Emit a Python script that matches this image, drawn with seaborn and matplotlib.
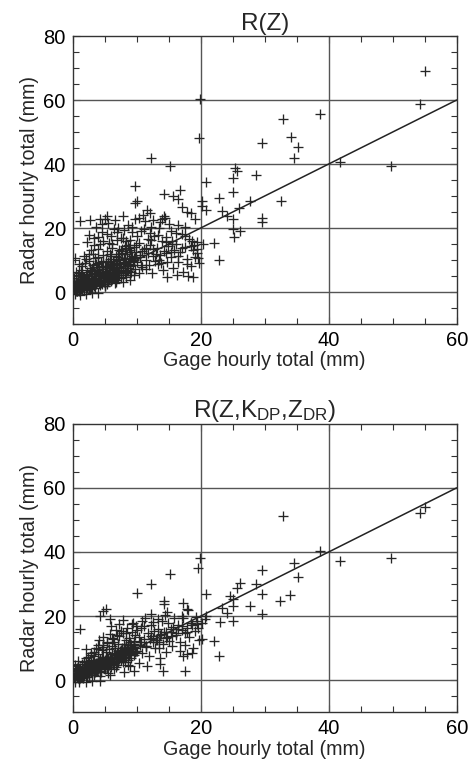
import numpy as np
import pandas as pd
import matplotlib
matplotlib.use("Agg")
import matplotlib.pyplot as plt
import seaborn as sns
from matplotlib.ticker import MultipleLocator

# ---------------- data ----------------
# Panel 1: R(Z)
gage_rz = [
    0.2, 0.3, 0.4, 0.5, 0.6, 0.7, 0.8, 0.9, 1.0, 1.1, 1.2, 1.3, 1.4, 1.5, 0.3, 0.5, 0.8, 1.0, 1.2, 1.4, 0.2, 0.6, 0.9, 1.3,
    0.4, 1.1, 2.0, 3.0, 4.0,
    1.6, 1.7, 1.8, 1.9, 2.0, 2.1, 2.2, 2.3, 2.4, 2.5, 2.6, 2.7, 2.8, 2.9, 3.0, 1.8, 2.2, 2.6, 2.0, 2.4, 2.8, 1.6, 3.0, 2.5,
    3.1, 3.2, 3.3, 3.4, 3.5, 3.6, 3.7, 3.8, 3.9, 4.0, 4.1, 4.2, 4.3, 4.4, 4.5, 4.6, 4.7, 4.8, 4.9, 5.0, 3.3, 3.7, 4.2, 4.6,
    3.5, 4.0, 4.4, 4.8, 3.2, 3.9, 4.5, 4.1,
    5.1, 5.2, 5.3, 5.4, 5.5, 5.6, 5.7, 5.8, 5.9, 6.0, 6.1, 6.2, 6.3, 6.4, 6.5, 6.6, 6.7, 6.8, 6.9, 7.0, 7.1, 7.2, 7.3, 7.4,
    5.5, 6.0, 6.6, 7.0, 5.3, 5.8, 6.2, 6.8, 7.3, 5.9, 6.4,
    7.6, 7.7, 7.8, 7.9, 8.0, 8.1, 8.2, 8.3, 8.4, 8.5, 8.6, 8.7, 8.8, 8.9, 9.0, 9.1, 9.2, 9.3, 9.4, 9.5, 9.6, 9.7, 9.8, 9.9,
    8.0, 9.0, 8.4, 9.6, 7.8,
    10.1, 10.3, 10.5, 10.7, 10.9, 11.1, 11.3, 11.5, 11.7, 11.9, 12.1, 12.3, 12.5, 12.7, 12.9, 10.4, 11.0, 11.8, 12.4, 10.8, 12.0,
    13.1, 13.3, 13.5, 13.7, 13.9, 14.1, 14.3, 14.5, 14.7, 14.9, 15.1, 15.3, 15.5, 15.7, 15.9, 13.6, 14.8, 15.4,
    16.1, 16.4, 16.7, 17.0, 17.3, 17.6, 17.9, 18.2, 18.5, 18.8, 19.1, 19.4, 19.7, 18.0, 19.0, 16.5, 17.5, 18.8, 16.3,
    # scattered / outliers
    55.1, 54.2, 49.8, 41.7, 38.6, 32.9, 34.1, 35.2, 34.5, 32.6, 29.5, 28.6, 29.5, 29.5, 27.7, 26.0, 26.1, 25.4, 25.6, 25.1,
    25.1, 25.0, 25.1, 25.2, 24.1, 23.3, 22.9, 22.9, 22.1, 20.8, 20.9, 20.2, 20.2, 19.9, 19.8, 19.1, 20.4, 19.4, 16.8, 16.5,
    15.7, 15.2, 14.2, 12.3, 9.7, 10.0, 9.7, 14.2, 13.9, 18.5, 17.8, 17.0, 12.1, 11.6, 1.1, 2.7, 4.3, 5.3, 5.0, 7.9, 10.3,
]
radar_rz = [
    0.8, 2.1, 1.2, 3.5, 0.4, 1.8, 5.2, 2.6, 0.9, 4.1, 1.5, 7.0, 2.9, 0.6, 10.5, 6.3, 3.2, 8.8, 2.2, 5.6, 4.5, 2.8, 1.1, 3.7,
    -0.5, -0.8, -0.6, -0.3, -0.4,
    1.9, 4.8, 2.5, 9.2, 0.7, 3.3, 6.1, 1.6, 4.4, 12.0, 2.8, 7.5, 3.9, 1.3, 5.7, 11.2, 15.5, 9.8, 5.0, 2.0, 6.6, 3.1, 2.4, 17.8,
    3.2, 8.4, 1.8, 5.1, 10.6, 4.0, 2.6, 6.9, 13.4, 3.5, 7.8, 5.4, 2.2, 9.5, 18.9, 6.2, 4.3, 11.7, 3.0, 8.0, 16.8, 20.4, 14.9, 21.1,
    6.0, 4.9, 3.7, 7.1, 11.9, 9.0, 5.6, 2.9,
    4.6, 9.7, 6.3, 12.8, 3.4, 7.4, 15.3, 5.2, 10.2, 8.6, 4.1, 13.8, 6.8, 19.8, 9.1, 5.6, 11.4, 7.9, 16.4, 4.8, 10.8, 6.5, 13.1, 8.7,
    21.5, 17.6, 22.6, 20.0, 2.6, 8.2, 6.0, 3.9, 9.9, 12.0, 7.3,
    5.9, 12.3, 8.1, 17.0, 10.3, 6.7, 14.4, 9.4, 4.6, 11.8, 21.0, 7.6, 13.6, 9.8, 16.1, 6.2, 11.1, 18.6, 8.4, 14.0, 10.6, 22.8, 7.2, 12.6,
    19.4, 3.6, 15.8, 5.4, 3.2,
    9.3, 15.2, 11.6, 19.1, 7.8, 13.3, 22.1, 10.0, 16.7, 8.5, 14.6, 20.4, 11.2, 17.5, 9.6, 6.0, 24.2, 12.1, 5.8, 12.9, 18.3,
    13.9, 8.8, 19.9, 11.5, 15.8, 6.9, 12.7, 17.2, 9.4, 14.3, 21.4, 10.9, 16.0, 7.5, 13.0, 22.0, 4.8, 19.0,
    15.0, 9.5, 12.4, 18.0, 6.4, 14.1, 10.3, 16.6, 8.0, 13.2, 11.0, 15.6, 9.0, 5.0, 14.6, 21.0, 20.2, 4.6, 5.4,
    69.1, 58.6, 39.4, 40.6, 55.5, 54.0, 48.5, 45.4, 42.0, 28.4, 46.7, 36.6, 23.2, 21.9, 28.4, 26.4, 19.1, 38.9, 37.8, 35.7,
    31.3, 22.7, 19.6, 17.3, 23.8, 25.3, 29.3, 9.9, 15.4, 34.4, 25.5, 26.9, 28.4, 60.2, 48.2, 22.7, 14.9, 13.3, 32.0, 29.0,
    30.0, 39.4, 30.5, 42.0, 33.1, 28.4, 27.9, 23.8, 22.7, 24.6, 25.0, 26.6, 24.8, 25.6, 22.2, 22.4, 22.9, 23.8, 22.7, 23.8, 23.2,
]
# more points of the dense R(Z) cloud
gage_rz_dense = [
    0.4, 0.7, 1.0, 1.3, 1.6, 1.9, 2.2, 2.5, 2.8, 3.1, 3.4, 3.7, 4.0, 4.3, 4.6, 4.9, 5.2, 5.5, 5.8, 6.1, 6.4, 6.7, 7.0, 7.3,
    7.6, 7.9, 8.2, 8.5, 8.8, 9.1, 9.4, 9.7,
    0.5, 0.9, 1.4, 1.8, 2.3, 2.7, 3.2, 3.6, 4.1, 4.5, 5.0, 5.4, 5.9, 6.3, 6.8, 7.2, 7.7, 8.1, 8.6, 9.0, 9.5, 9.9, 10.6, 11.4,
    12.2, 13.0, 13.8, 14.6, 15.4, 16.2, 17.0, 17.8, 18.6, 19.4,
    1.0, 1.5, 2.1, 2.9, 3.4, 4.0, 4.7, 5.3, 6.1, 6.9, 7.5, 8.3, 9.2, 10.0, 11.2, 12.6, 13.4, 14.4, 0.8, 1.7, 2.6, 3.5, 4.4, 5.1,
    6.0, 6.9, 7.8, 8.7,
    0.3, 0.6, 0.9, 1.2, 1.5, 1.8, 2.1, 2.4, 2.7, 3.0, 3.3, 3.6, 3.9, 4.2, 4.5, 4.8, 5.1, 5.4, 5.7, 6.0, 6.3, 6.6, 6.9, 7.2,
    7.5, 7.8, 8.1, 8.4, 8.7, 9.0, 0.5, 1.0, 1.5, 2.0, 2.5, 3.0, 3.5, 4.0, 4.5, 5.0, 5.5, 6.0, 6.5, 7.0, 7.5, 8.0, 8.5, 9.0,
    10.5, 11.5, 12.5, 13.5, 14.5, 15.5, 16.5, 17.5, 18.5, 19.5,
]
radar_rz_dense = [
    1.5, 0.3, 2.4, 1.0, 3.6, 2.2, 1.2, 4.9, 2.0, 3.8, 6.5, 2.9, 5.8, 4.5, 8.2, 5.0, 6.6, 3.9, 9.3, 7.0, 5.1, 8.5, 6.2, 10.4,
    7.4, 9.0, 11.8, 8.1, 10.2, 12.5, 9.6, 11.0,
    0.2, 1.6, 0.5, 2.9, 4.1, 1.0, 2.7, 5.5, 3.3, 7.2, 1.9, 5.9, 4.4, 9.8, 3.1, 7.7, 13.4, 6.1, 8.9, 5.2, 10.1, 14.8, 8.3, 13.9,
    16.1, 11.9, 9.2, 15.5, 12.6, 18.4, 13.7, 8.7, 16.0, 12.3,
    6.0, 8.1, 10.3, 13.0, 14.7, 17.1, 15.8, 18.0, 14.9, 18.7, 16.8, 13.7, 20.3, 17.6, 19.7, 22.5, 17.9, 23.0, 2.0, 0.9, 3.6, 1.1,
    2.7, 1.9, 3.3, 4.6, 5.4, 6.6,
    0.6, 2.9, 1.4, 3.9, 0.8, 2.6, 5.3, 3.1, 6.9, 1.7, 4.2, 8.8, 3.4, 6.0, 2.4, 9.7, 5.7, 7.9, 4.0, 11.1, 6.4, 2.9, 9.2, 5.3,
    12.9, 7.0, 10.7, 5.9, 14.6, 8.1, 1.9, 0.4, 4.6, 2.3, 1.2, 7.0, 3.0, 10.9, 6.1, 2.6, 9.5, 3.7, 7.6, 12.0, 4.4, 9.4, 6.9, 13.1,
    10.8, 7.3, 13.5, 10.1, 12.2, 14.9, 11.2, 17.6, 14.4, 10.5,
]

# Panel 2: R(Z, KDP, ZDR)
gage_pol = [
    0.2, 0.3, 0.4, 0.5, 0.6, 0.7, 0.8, 0.9, 1.0, 1.1, 1.2, 1.3, 1.4, 1.5, 0.3, 0.6, 1.0, 1.3, 0.5, 0.9, 1.2,
    0.4, 1.0, 2.0, 3.0, 4.2,
    1.6, 1.7, 1.8, 1.9, 2.0, 2.1, 2.2, 2.3, 2.4, 2.5, 2.6, 2.7, 2.8, 2.9, 3.0, 1.8, 2.2, 2.6, 2.0, 2.9, 1.6,
    3.1, 3.2, 3.3, 3.4, 3.5, 3.6, 3.7, 3.8, 3.9, 4.0, 4.1, 4.2, 4.3, 4.4, 4.5, 4.6, 4.7, 4.8, 4.9, 5.0, 3.4, 3.9, 4.3, 4.8, 3.6,
    5.1, 5.2, 5.3, 5.4, 5.5, 5.6, 5.7, 5.8, 5.9, 6.0, 6.1, 6.2, 6.3, 6.4, 6.5, 6.6, 6.7, 6.8, 6.9, 7.0, 7.1, 7.2, 7.3, 7.4,
    5.5, 6.0, 6.8, 7.2, 5.8, 6.5,
    7.6, 7.7, 7.8, 7.9, 8.0, 8.1, 8.2, 8.3, 8.4, 8.5, 8.6, 8.7, 8.8, 8.9, 9.0, 9.1, 9.2, 9.3, 9.4, 9.5, 9.6, 9.7, 9.8, 9.9,
    8.0, 9.0, 7.8, 9.5,
    10.1, 10.3, 10.5, 10.7, 10.9, 11.1, 11.3, 11.5, 11.7, 11.9, 12.1, 12.3, 12.5, 12.7, 12.9, 10.4, 11.6, 12.2, 10.8,
    13.1, 13.3, 13.5, 13.7, 13.9, 14.1, 14.3, 14.5, 14.7, 14.9, 15.1, 15.3, 15.5, 15.7, 15.9, 13.6, 14.8,
    16.1, 16.4, 16.7, 17.0, 17.3, 17.6, 17.9, 18.2, 18.5, 18.8, 19.1, 19.4, 19.7, 16.8, 18.0, 19.2, 17.2,
    # scattered / outliers
    55.1, 54.2, 49.8, 41.7, 38.6, 32.9, 34.5, 35.2, 34.0, 32.4, 29.5, 29.5, 29.5, 28.6, 27.7, 26.1, 25.6, 25.1, 25.1, 24.6,
    24.1, 25.1, 23.3, 23.0, 22.0, 22.9, 20.9, 19.9, 19.6, 20.8, 20.7, 20.2, 20.2, 15.2, 12.3, 10.0, 14.2, 14.2, 1.1, 4.8,
    5.2, 4.3, 5.8, 17.3, 17.8, 17.0, 18.6, 17.8, 17.6, 14.1, 13.6,
]
radar_pol = [
    1.0, 2.4, 0.5, 3.6, 1.7, 2.9, 0.8, 4.4, 1.9, 3.1, 0.6, 2.3, 5.0, 1.4, 4.8, 3.8, 2.7, 1.1, 1.5, 6.1, 3.9,
    -0.4, -0.6, -0.5, -0.3, -0.2,
    2.6, 4.1, 1.2, 3.4, 6.0, 2.0, 4.7, 3.0, 7.3, 1.6, 5.3, 3.7, 8.5, 2.5, 4.6, 5.6, 1.0, 3.3, 9.8, 6.4, 0.7,
    3.5, 6.0, 2.1, 7.7, 4.4, 10.2, 5.3, 3.0, 8.3, 5.8, 12.4, 4.0, 6.7, 2.6, 9.3, 5.0, 13.6, 7.1, 3.8, 6.3, 1.5, 11.0, 1.4, 10.4, 4.9,
    5.5, 8.9, 3.9, 11.5, 6.8, 4.6, 9.6, 14.4, 7.4, 5.2, 10.8, 6.1, 12.9, 8.2, 3.6, 9.9, 6.9, 15.6, 8.6, 5.7, 11.3, 7.8, 13.8, 9.2,
    2.4, 16.8, 4.2, 17.6, 1.6, 12.0,
    6.3, 10.1, 8.0, 14.8, 11.4, 5.8, 9.3, 12.6, 7.3, 16.2, 10.5, 4.9, 13.2, 8.8, 11.8, 6.8, 15.0, 9.7, 18.0, 12.2, 7.9, 14.0, 10.0, 16.9,
    2.6, 4.5, 18.8, 3.0,
    9.2, 13.5, 11.0, 16.4, 8.6, 12.8, 19.4, 10.6, 14.7, 7.6, 13.0, 17.3, 11.8, 15.4, 9.9, 5.5, 4.3, 20.5, 18.6,
    12.4, 16.1, 10.2, 14.2, 18.4, 11.3, 15.1, 8.9, 13.6, 17.7, 12.1, 14.9, 10.7, 16.6, 19.3, 6.8, 21.2,
    14.0, 17.1, 12.0, 15.8, 19.5, 11.0, 16.3, 13.4, 18.0, 10.1, 15.2, 17.5, 12.6, 9.0, 21.8, 19.8, 7.5,
    54.1, 52.3, 38.2, 37.1, 40.2, 51.1, 36.6, 32.2, 26.5, 24.7, 34.5, 26.8, 20.5, 29.9, 23.1, 30.4, 28.8, 25.2, 23.3, 26.2,
    21.0, 18.5, 22.6, 18.2, 12.2, 7.6, 26.8, 38.2, 35.1, 20.0, 19.0, 17.9, 12.8, 33.2, 30.1, 27.1, 24.7, 23.7, 15.9, 21.6,
    22.3, 20.0, 19.2, 24.2, 22.1, 20.0, 8.6, 8.1, 2.9, 2.9, 5.0,
]
# more points of the dense polarimetric cloud
gage_pol_dense = [
    0.4, 0.7, 1.0, 1.3, 1.6, 1.9, 2.2, 2.5, 2.8, 3.1, 3.4, 3.7, 4.0, 4.3, 4.6, 4.9, 5.2, 5.5, 5.8, 6.1, 6.4, 6.7, 7.0, 7.3,
    7.6, 7.9, 8.2, 8.5, 8.8, 9.1, 9.4, 9.7,
    0.5, 0.9, 1.4, 1.8, 2.3, 2.7, 3.2, 3.6, 4.1, 4.5, 5.0, 5.4, 5.9, 6.3, 6.8, 7.2, 7.7, 8.1, 8.6, 9.0, 9.5, 9.9, 10.6, 11.4,
    12.2, 13.0, 13.8, 14.6, 15.4, 16.2, 17.0, 17.8, 18.6, 19.4,
    1.0, 1.5, 2.1, 2.9, 3.4, 4.0, 4.7, 5.3, 6.1, 6.9, 7.5, 8.3, 9.2, 10.0, 11.2, 12.6, 13.4, 14.4, 0.8, 1.7, 2.6, 3.5, 4.4, 5.1,
    6.0, 6.9, 7.8, 8.7,
    0.3, 0.6, 0.9, 1.2, 1.5, 1.8, 2.1, 2.4, 2.7, 3.0, 3.3, 3.6, 3.9, 4.2, 4.5, 4.8, 5.1, 5.4, 5.7, 6.0, 6.3, 6.6, 6.9, 7.2,
    7.5, 7.8, 8.1, 8.4, 8.7, 9.0, 0.5, 1.0, 1.5, 2.0, 2.5, 3.0, 3.5, 4.0, 4.5, 5.0, 5.5, 6.0, 6.5, 7.0, 7.5, 8.0, 8.5, 9.0,
    10.5, 11.5, 12.5, 13.5, 14.5, 15.5, 16.5, 17.5, 18.5, 19.5,
]
radar_pol_dense = [
    1.8, 0.9, 3.0, 2.0, 2.8, 4.0, 3.2, 2.2, 4.9, 3.9, 5.5, 4.3, 3.6, 6.2, 5.6, 4.7, 7.3, 6.0, 5.0, 8.1, 7.0, 6.1, 9.0, 7.5,
    8.4, 6.9, 10.0, 9.1, 7.8, 11.0, 9.9, 8.7,
    2.9, 1.3, 2.5, 3.6, 2.4, 4.4, 5.1, 3.3, 4.6, 6.8, 4.2, 7.4, 6.4, 5.1, 8.0, 6.6, 9.5, 7.1, 10.9, 8.2, 11.3, 9.0, 12.0, 10.4,
    13.8, 12.6, 14.5, 13.1, 15.9, 14.7, 16.8, 15.0, 17.2, 18.6,
    0.4, 1.0, 6.8, 7.8, 8.9, 9.7, 11.1, 12.0, 13.3, 14.1, 15.3, 14.6, 17.4, 15.8, 16.9, 18.2, 19.0, 20.3, 3.3, 5.2, 1.7, 2.5,
    3.0, 3.4, 4.0, 4.9, 5.6, 6.2,
    0.9, 1.5, 2.2, 1.0, 2.6, 3.4, 2.0, 4.1, 3.0, 4.8, 2.9, 5.2, 4.6, 3.5, 6.0, 5.1, 4.4, 6.8, 5.5, 7.4, 6.1, 8.0, 6.5, 7.9,
    9.4, 7.0, 9.6, 8.3, 10.5, 8.6, 2.0, 2.8, 0.9, 3.1, 4.0, 2.3, 5.0, 3.6, 5.7, 4.3, 6.6, 5.4, 7.3, 6.1, 8.7, 7.4, 9.8, 10.3,
    11.9, 10.6, 13.2, 12.0, 15.1, 13.7, 16.0, 14.8, 18.0, 16.4,
]

titles = ["R(Z)", r"R(Z,K$_{\mathrm{DP}}$,Z$_{\mathrm{DR}}$)"]
xlabel = "Gage hourly total (mm)"
ylabel = "Radar hourly total (mm)"
one_to_one = [0, 60]
x_ticks = [0, 20, 40, 60]
y_ticks = [0, 20, 40, 60, 80]

# ---------------- styling ----------------
sns.set_theme(style="white")
plt.rcParams["font.family"] = ["Liberation Sans", "DejaVu Sans"]
plt.rcParams["mathtext.fontset"] = "custom"
plt.rcParams["mathtext.rm"] = "Liberation Sans"
plt.rcParams["mathtext.it"] = "Liberation Sans"

fig = plt.figure(figsize=(4.72, 7.66), dpi=100)
W, H = 472, 766
ax_top = fig.add_axes([72.7 / W, 1 - 324 / H, 384 / W, 288 / H])
ax_bot = fig.add_axes([72.7 / W, 1 - 712.3 / H, 384 / W, 288.6 / H])

panels = [
    (ax_top, gage_rz + gage_rz_dense, radar_rz + radar_rz_dense, titles[0]),
    (ax_bot, gage_pol + gage_pol_dense, radar_pol + radar_pol_dense, titles[1]),
]

for ax, gx, ry, title in panels:
    df = pd.DataFrame({"gage": gx, "radar": ry})
    for v in [20, 40]:
        ax.axvline(v, color="#555555", lw=1.0, zorder=1)
    for v in [0, 20, 40, 60]:
        ax.axhline(v, color="#555555", lw=1.0, zorder=1)
    sns.lineplot(x=one_to_one, y=one_to_one, ax=ax, color="#222222", lw=1.1, zorder=2)
    sns.scatterplot(data=df, x="gage", y="radar", ax=ax, marker="+", s=48,
                    color="#262626", linewidth=0.95, zorder=3)
    ax.set_xlim(0, 60)
    ax.set_ylim(-10, 80)
    ax.set_xticks(x_ticks)
    ax.set_yticks(y_ticks)
    ax.xaxis.set_minor_locator(MultipleLocator(5))
    ax.yaxis.set_minor_locator(MultipleLocator(5))
    ax.tick_params(which="both", direction="in", top=True, right=True,
                   bottom=True, left=True, color="#333333")
    ax.tick_params(which="major", length=5, width=0.8, labelsize=14.5, pad=5,
                   labelcolor="black")
    ax.tick_params(which="minor", length=4, width=0.8)
    for sp in ax.spines.values():
        sp.set_color("#333333")
        sp.set_linewidth(1.0)
    ax.set_xlabel(xlabel, fontsize=14.2, labelpad=1)
    ax.set_ylabel(ylabel, fontsize=14.2, labelpad=3)
    ax.set_title(title, fontsize=17.5, pad=4)

fig.savefig("out.png", dpi=100)
